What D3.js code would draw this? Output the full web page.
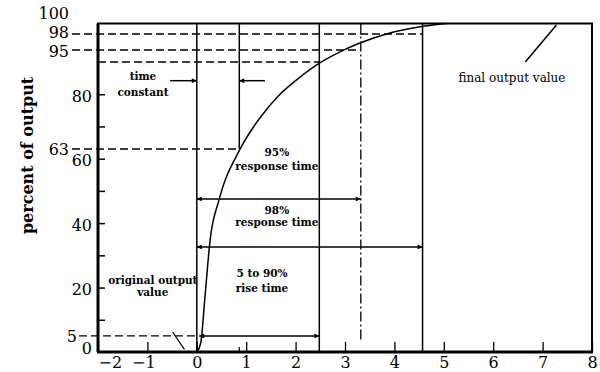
<!DOCTYPE html>
<html>
<head>
<meta charset="utf-8">
<script src="https://cdn.jsdelivr.net/npm/d3@7"></script>
<style>
body { margin: 0; background: #fff; }
text { font-family: "DejaVu Serif", serif; fill: #000; }
</style>
</head>
<body>
<div id="chart"></div>
<script>
// axis ticks and labels
var xTicks = [-2, -1, 0, 1, 2, 3, 4, 5, 6, 7, 8];
var yTicks = [10, 20, 30, 40, 50, 60, 70, 80];
var yLabels = [0, 5, 20, 40, 60, 63, 80, 95, 98, 100];
var levelLabels = [5, 63, 95, 98, 100];

// step response: time, percent of output
var curveT = [0, 0.08, 0.16, 0.27, 0.45, 0.87, 1.28, 1.68, 2.09, 2.49, 2.9, 3.3, 3.91, 4.52, 5.06];
var curveV = [0, 2.8, 16.1, 34.8, 47.2, 62.8, 72.7, 79.9, 85.3, 89.7, 94.2, 96.3, 98.2, 99.4, 100];

// characteristic times
var tauTime = 0.86, t90 = 2.48, t95 = 3.32, t98 = 4.57;

var width = 600, height = 372;

var x = d3.scaleLinear().domain([-2, 8]).range([98, 592]);
// the drawing stretches the top of the percent scale
var y = d3.scaleLinear().domain([0, 90, 95, 98, 100]).range([352, 62, 50, 34, 23.5]);

var svg = d3.select("#chart").append("svg")
    .attr("width", width)
    .attr("height", height);

var defs = svg.append("defs");
defs.append("marker")
    .attr("id", "arr")
    .attr("viewBox", "0 0 10 10")
    .attr("refX", 10)
    .attr("refY", 5)
    .attr("markerWidth", 7)
    .attr("markerHeight", 5)
    .attr("markerUnits", "userSpaceOnUse")
    .attr("orient", "auto-start-reverse")
  .append("path")
    .attr("d", "M0,0L10,5L0,10z")
    .attr("fill", "#000");

function hline(v, t0, t1, dash, sw){
    return svg.append("line")
        .attr("x1", typeof t0 === "number" ? x(t0) : t0.px)
        .attr("x2", x(t1))
        .attr("y1", y(v))
        .attr("y2", y(v))
        .attr("stroke", "#000")
        .attr("stroke-width", sw || 1.3)
        .attr("stroke-dasharray", dash || null);
}

function vline(t, v0, v1, dash, sw){
    return svg.append("line")
        .attr("x1", x(t))
        .attr("x2", x(t))
        .attr("y1", y(v0))
        .attr("y2", y(v1))
        .attr("stroke", "#000")
        .attr("stroke-width", sw || 1.5)
        .attr("stroke-dasharray", dash || null);
}

// dashed level lines from the labels
hline(98, {px: 72}, t98, "8,4");
hline(95, {px: 72}, t95, "8,4");
hline(90, -2, t90, "8,4");
hline(63, {px: 72}, tauTime, "8,4");
hline(5, {px: 79}, 0, "8,4");

// vertical markers
vline(0, 100, 0);
vline(tauTime, 100, 63);
vline(t90, 100, 0);
vline(t95, 100, 3.7, "10,3,2,3", 1.3);
vline(t98, 100, 0);

// response curve
var line = d3.line()
    .x(function(d){ return x(d[0]); })
    .y(function(d){ return y(d[1]); })
    .curve(d3.curveMonotoneX);

svg.append("path")
    .datum(d3.zip(curveT, curveV))
    .attr("d", line)
    .attr("fill", "none")
    .attr("stroke", "#000")
    .attr("stroke-width", 1.5);

// arrows
function arrow(v, t0, t1, both){
    hline(v, t0, t1, null, 1.5)
        .attr("marker-end", "url(#arr)")
        .attr("marker-start", both ? "url(#arr)" : null);
}
arrow(84.2, -0.54, 0);
arrow(84.2, 1.38, tauTime);
arrow(47.5, 0, t95, true);
arrow(32.6, 0, t98, true);
arrow(5, 0.05, t90, true);

// leader lines
svg.append("line")
    .attr("x1", x(-0.49)).attr("y1", y(6.2))
    .attr("x2", x(-0.25)).attr("y2", y(0.8))
    .attr("stroke", "#000").attr("stroke-width", 1.2);
svg.append("line")
    .attr("x1", x(6.65)).attr("y1", y(90))
    .attr("x2", x(7.28)).attr("y2", y(99.7))
    .attr("stroke", "#000").attr("stroke-width", 1.5);

// frame
svg.append("rect")
    .attr("x", x(-2)).attr("y", y(100))
    .attr("width", x(8) - x(-2)).attr("height", y(0) - y(100))
    .attr("fill", "none").attr("stroke", "#000").attr("stroke-width", 2);
svg.append("line")
    .attr("x1", x(-2)).attr("x2", x(-2)).attr("y1", y(100)).attr("y2", y(0))
    .attr("stroke", "#000").attr("stroke-width", 3);
svg.append("line")
    .attr("x1", x(-2) - 1).attr("x2", x(8) + 1).attr("y1", y(0)).attr("y2", y(0))
    .attr("stroke", "#000").attr("stroke-width", 3);

// x axis
var xAxis = svg.append("g")
    .attr("transform", "translate(0," + y(0) + ")")
    .call(d3.axisBottom(x).tickValues(xTicks).tickSize(-10).tickPadding(5));
xAxis.select(".domain").remove();
xAxis.selectAll("line").attr("stroke-width", 1.3);
xAxis.selectAll("text")
    .style("font-family", "'DejaVu Serif', serif")
    .style("font-size", "16px")
    .attr("text-anchor", function(d){ return d === -2 ? "start" : "middle"; })
    .attr("dx", function(d){ return d === -1 ? -4 : 0; });

// small mark at the time constant
svg.append("line")
    .attr("x1", x(tauTime)).attr("x2", x(tauTime))
    .attr("y1", y(0)).attr("y2", y(0) - 5)
    .attr("stroke", "#000").attr("stroke-width", 1.2);

// y axis ticks
var yAxis = svg.append("g")
    .attr("transform", "translate(" + x(-2) + ",0)")
    .call(d3.axisLeft(y).tickValues(yTicks).tickSize(-7).tickFormat(""));
yAxis.select(".domain").remove();
yAxis.selectAll("line").attr("stroke-width", 1.5);

svg.append("g").selectAll("text")
    .data(yLabels)
    .enter()
    .append("text")
    .attr("x", function(d){
        if(d === 5) return 77;
        return levelLabels.indexOf(d) >= 0 ? 69 : 92;
    })
    .attr("y", function(d){
        if(d === 100) return y(d) - 10;
        if(d === 98) return y(d) - 1.5;
        if(d === 95) return y(d) + 1.5;
        if(d === 0) return y(d) - 4;
        if(d === 63 || d === 5) return y(d);
        return y(d) + 2;
    })
    .attr("dy", "0.36em")
    .attr("text-anchor", "end")
    .style("font-size", "16px")
    .text(function(d){ return d; });

// y axis title
svg.append("text")
    .attr("transform", "translate(27," + y(61) + ") rotate(-90)")
    .attr("dy", "0.36em")
    .attr("text-anchor", "middle")
    .style("font-size", "16px")
    .style("font-weight", "bold")
    .text("percent of output");

// annotations
function label(t, v, lines, gap, bold, size){
    var g = svg.append("text")
        .attr("x", x(t))
        .attr("y", y(v))
        .attr("text-anchor", "middle")
        .style("font-size", (size || 10.5) + "px")
        .style("font-weight", bold ? "bold" : "normal");
    lines.forEach(function(s, i){
        g.append("tspan")
            .attr("x", x(t))
            .attr("dy", i === 0 ? "0.36em" : gap)
            .text(s);
    });
}
label(-1.09, 85.7, ["time", "constant"], 16, true);
label(1.62, 62.1, ["95%", "response time"], 14, true);
label(1.62, 44.1, ["98%", "response time"], 12, true);
label(1.32, 24.5, ["5 to 90%", "rise time"], 15, true);
label(-0.89, 22.3, ["original output", "value"], 12, true);
label(6.38, 85.0, ["final output value"], 0, false, 12);
</script>
</body>
</html>
